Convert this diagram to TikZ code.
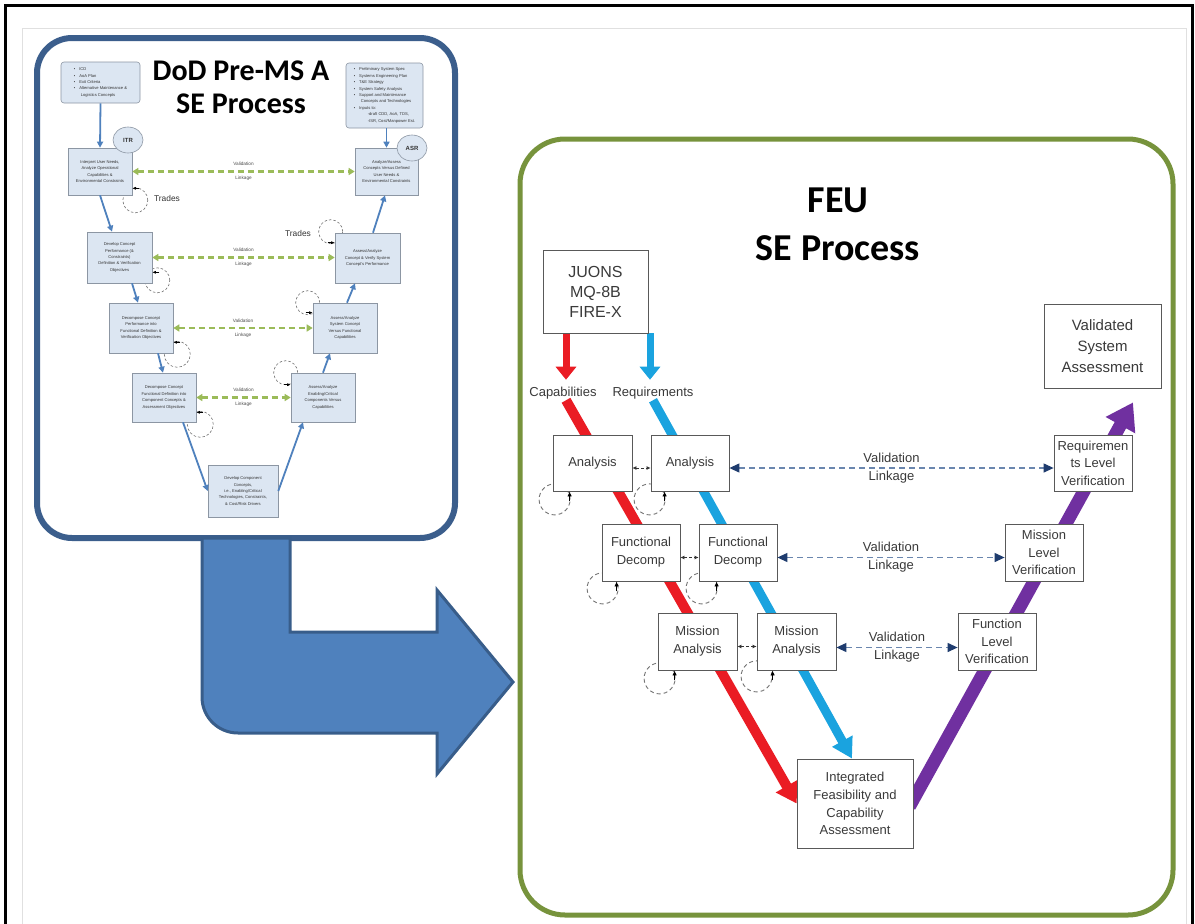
\documentclass[tikz,border=0pt]{standalone}
\usepackage{fontspec}
\setmainfont{Liberation Sans}
\newfontfamily\calib{Carlito}
\usetikzlibrary{arrows.meta,calc,shapes.geometric}
\pgfdeclarelayer{back}
\pgfdeclarelayer{mid}
\pgfsetlayers{back,mid,main}
\definecolor{lbfill}{HTML}{DCE6F2}
\definecolor{lbdraw}{HTML}{8C96A3}
\definecolor{panelblue}{HTML}{3B5E8C}
\definecolor{arrowblue}{HTML}{4F81BD}
\definecolor{arrowblueedge}{HTML}{385D8A}
\definecolor{vgreen}{HTML}{9BBB59}
\definecolor{panelgreen}{HTML}{77933C}
\definecolor{redarr}{HTML}{EA1C24}
\definecolor{cyanarr}{HTML}{1AA3DF}
\definecolor{purparr}{HTML}{7030A0}
\definecolor{linkblue}{HTML}{6A86AE}
\definecolor{linkhead}{HTML}{1F3C6E}
\definecolor{textgray}{HTML}{3A3A3A}
\begin{document}
\begin{tikzpicture}[x=1pt,y=-1pt,
  lbox/.style={draw=lbdraw, fill=lbfill, line width=0.6pt, align=center, inner sep=1pt,
    font=\fontsize{4.1}{6.4}\selectfont, text=black!80},
  inbox/.style={lbox, rounded corners=3pt, align=left},
  oval/.style={ellipse, draw=lbdraw, fill=lbfill, line width=0.6pt, minimum width=30pt, minimum height=26pt,
    inner sep=0pt, font=\bfseries\fontsize{6}{7}\selectfont, text=black!80},
  rbox/.style={draw=black!65, fill=white, line width=0.8pt, align=center, inner sep=1pt,
    font=\fontsize{13}{18}\selectfont, text=textgray},
  lbl/.style={font=\fontsize{13}{16}\selectfont, text=textgray, inner sep=1pt},
  vlabel/.style={align=center, font=\fontsize{13}{18}\selectfont, text=textgray, inner sep=0pt},
  svlabel/.style={align=center, font=\fontsize{4.7}{14}\selectfont, text=black!70, inner sep=0pt},
  trades/.style={font=\fontsize{8.4}{10}\selectfont, text=black!80, inner sep=0pt},
  vlink/.style={dash pattern=on 6pt off 4pt, draw=linkblue, line width=1.2pt,
    {Triangle[color=linkhead,length=10pt,width=9pt]}-{Triangle[color=linkhead,length=10pt,width=9pt]}},
  sdash/.style={dash pattern=on 3pt off 2pt, draw=black!80, line width=0.8pt,
    {Latex[length=4pt,width=4pt]}-{Latex[length=4pt,width=4pt]}},
  gdash/.style={dash pattern=on 6pt off 4pt, draw=vgreen, line width=2.2pt,
    {Triangle[length=6pt,width=7pt]}-{Triangle[length=6pt,width=7pt]}},
  barr/.style={draw=arrowblue, line width=1.8pt, -{Triangle[length=6pt,width=6pt]}},
  loopc/.style={dash pattern=on 4pt off 3pt, draw=black!55, line width=0.9pt},
  looparr/.style={-{Latex[length=5pt,width=4.5pt]}, draw=black, line width=0.8pt},
  sloopc/.style={dash pattern=on 2.5pt off 2pt, draw=black!55, line width=0.6pt},
  slooparr/.style={-{Latex[length=3.5pt,width=3pt]}, draw=black, line width=0.6pt},
  redv/.style={draw=redarr, line width=7pt, -{Triangle[length=13pt,width=20pt]}},
  cyanv/.style={draw=cyanarr, line width=7pt, -{Triangle[length=13pt,width=20pt]}},
  redd/.style={draw=redarr, line width=10pt, -{Triangle[length=20pt,width=24pt]}},
  cyand/.style={draw=cyanarr, line width=9pt, -{Triangle[length=20pt,width=22pt]}},
  purpd/.style={draw=purparr, line width=13pt, -{Triangle[length=26pt,width=32pt]}}
]
\useasboundingbox (0,0) rectangle (1195,924);

\begin{pgfonlayer}{back}
  \draw[black, line width=3pt] (5,924) -- (5,5) -- (1192,5) -- (1192,924);
  \draw[black!12, line width=1pt] (22,924) -- (22,28) -- (1186,28) -- (1186,924);
  \draw[panelblue, line width=6pt, fill=white, rounded corners=35pt] (37,38) rectangle (455,538);
  \draw[panelgreen, line width=5pt, fill=white, rounded corners=45pt] (520,139) rectangle (1173,915);
  \filldraw[fill=arrowblue, draw=arrowblueedge, line width=3pt, line join=miter]
    (290,538) -- (290,632) -- (437,632) -- (437,590) -- (513,682) -- (437,774) -- (437,733)
    -- (238,733) .. controls (218,733) and (202,717) .. (202,697) -- (202,538) -- cycle;
\end{pgfonlayer}

% ---------- titles ----------
\node[font=\calib\bfseries\fontsize{30}{33}\selectfont, align=center, inner sep=0pt] (t1) at (241,87) {DoD Pre-MS A\\SE Process};
\node[font=\calib\bfseries\fontsize{38}{48}\selectfont, align=center, inner sep=0pt] (t2) at (838,224) {FEU\\SE Process};

% ---------- left panel ----------
\node[inbox, minimum width=79pt, minimum height=41pt] (in1) at (100.5,82.5)
  {\textbullet\hspace{4pt}ICD\\\textbullet\hspace{4pt}AoA Plan\\\textbullet\hspace{4pt}Exit Criteria\\
   \textbullet\hspace{4pt}Alternative Maintenance \&\\\hspace{7pt}Logistics Concepts};
\node[inbox, minimum width=77pt, minimum height=65pt] (in2) at (384.5,95.5)
  {\textbullet\hspace{4pt}Preliminary System Spec\\\textbullet\hspace{4pt}Systems Engineering Plan\\
   \textbullet\hspace{4pt}T\&E Strategy\\\textbullet\hspace{4pt}System Safety Analysis\\
   \textbullet\hspace{4pt}Support and Maintenance\\\hspace{7pt}Concepts and Technologies\\
   \textbullet\hspace{4pt}Inputs to:\\\hspace{14pt}-draft CDD, AoA, TDS,\\\hspace{14pt}-ISR, Cost/Manpower Est.};

\node[lbox, minimum width=64pt, minimum height=47pt] (b1) at (100,171.5)
  {Interpret User Needs,\\Analyze Operational\\Capabilities \&\\Environmental Constraints};
\node[lbox, minimum width=63pt, minimum height=47pt] (b9) at (386.5,171.5)
  {Analyze/Assess\\Concepts Versus Defined\\User Needs \&\\Environmental Constraints};
\node[lbox, minimum width=65pt, minimum height=51pt] (b2) at (119.5,257.5)
  {Develop Concept\\Performance (\&\\Constraints)\\Definition \& Verification\\Objectives};
\node[lbox, minimum width=65pt, minimum height=50pt] (b8) at (367.5,258)
  {Assess/Analyze\\Concept \& Verify System\\Concept's Performance};
\node[lbox, minimum width=64pt, minimum height=50pt] (b3) at (141,328)
  {Decompose Concept\\Performance into\\Functional Definition \&\\Verification Objectives};
\node[lbox, minimum width=64pt, minimum height=50pt] (b7) at (345,328)
  {Assess/Analyze\\System Concept\\Versus Functional\\Capabilities};
\node[lbox, minimum width=64pt, minimum height=49pt] (b4) at (164,397.5)
  {Decompose Concept\\Functional Definition into\\Component Concepts \&\\Assessment Objectives};
\node[lbox, minimum width=64pt, minimum height=49pt] (b6) at (323,397.5)
  {Assess/Analyze\\Enabling/Critical\\Components Versus\\Capabilities};
\node[lbox, minimum width=70pt, minimum height=52pt] (b5) at (243,491)
  {Develop Component\\Concepts,\\i.e., Enabling/Critical\\Technologies, Constraints,\\\& Cost/Risk Drivers};

\node[oval] (itr) at (128,140) {ITR};
\node[oval] (asr) at (412,148) {ASR};

\node[trades] (tr1) at (167,198) {Trades};
\node[trades] (tr2) at (298,233) {Trades};

% left flow arrows
\draw[barr] (in1.south) -- (b1.north);
\draw[barr] ([xshift=2pt]in2.south) -- (b9.north);
\draw[barr] (b1.south) -- ([xshift=-7.5pt]b2.north);
\draw[barr] ([xshift=12.5pt]b2.south) -- ([xshift=-3pt]b3.north);
\draw[barr] ([xshift=17pt]b3.south) -- ([xshift=-1pt]b4.north);
\draw[barr] ([xshift=19pt]b4.south) -- (b5.west);
\draw[barr] (b5.east) -- ([xshift=-20pt]b6.south);
\draw[barr] (b6.north) -- ([xshift=-15pt]b7.south);
\draw[barr] ([xshift=2pt]b7.north) -- ([xshift=-12.5pt]b8.south);
\draw[barr] ([xshift=5.5pt]b8.north) -- ([xshift=-1.5pt]b9.south);

% left validation linkages
\draw[gdash] (b1.east) -- node[svlabel] (lv1) {Validation\\Linkage} (b9.west);
\draw[gdash] (b2.east) -- node[svlabel] (lv2) {Validation\\Linkage} (b2.east -| b8.west);
\draw[gdash] (b3.east) -- node[svlabel] (lv3) {Validation\\Linkage} (b7.west);
\draw[gdash] (b4.east) -- node[svlabel] (lv4) {Validation\\Linkage} (b6.west);

% left self loops
\begin{pgfonlayer}{mid}
  \draw[sloopc] ($(b1.south east)+(3,5)$) circle[radius=12.5pt];
  \draw[sloopc] ($(b2.south east)+(5,-3)$) circle[radius=12.5pt];
  \draw[sloopc] ($(b3.south east)+(4,1)$) circle[radius=13pt];
  \draw[sloopc] ($(b4.south east)+(4,2)$) circle[radius=13pt];
  \draw[sloopc] ($(b8.north west)+(-4,-1)$) circle[radius=12pt];
  \draw[sloopc] ($(b7.north west)+(-5,0)$) circle[radius=12pt];
  \draw[sloopc] ($(b6.north west)+(-5,0)$) circle[radius=12pt];
\end{pgfonlayer}
\draw[slooparr] ($(b1.south east)+(7,-7)$) -- ($(b1.south east)+(0,-7)$);
\draw[slooparr] ($(b2.south east)+(7,-11)$) -- ($(b2.south east)+(0,-11)$);
\draw[slooparr] ($(b3.south east)+(7,-11)$) -- ($(b3.south east)+(0,-11)$);
\draw[slooparr] ($(b4.south east)+(7,-10)$) -- ($(b4.south east)+(0,-10)$);
\draw[slooparr] ($(b8.north west)+(-7,10)$) -- ($(b8.north west)+(0,10)$);
\draw[slooparr] ($(b7.north west)+(-7,10)$) -- ($(b7.north west)+(0,10)$);
\draw[slooparr] ($(b6.north west)+(-7,12)$) -- ($(b6.north west)+(0,12)$);

% ---------- right panel ----------
\node[rbox, minimum width=105pt, minimum height=83pt, font=\fontsize{16}{20}\selectfont] (juons) at (595.5,291.5) {JUONS\\MQ-8B\\FIRE-X};
\node[rbox, minimum width=117pt, minimum height=84pt, font=\fontsize{15}{21}\selectfont] (vsa) at (1102.5,346) {Validated\\System\\Assessment};
\node[lbl] (cap) at (563,393) {Capabilities};
\node[lbl] (req) at (653,393) {Requirements};

\node[rbox, minimum width=79pt, minimum height=56pt] (a1) at (592.5,463) {Analysis};
\node[rbox, minimum width=78pt, minimum height=56pt] (a2) at (690,463) {Analysis};
\node[rbox, minimum width=78pt, minimum height=57pt] (f1) at (641,552.5) {Functional\\Decomp};
\node[rbox, minimum width=78pt, minimum height=57pt] (f2) at (738,552.5) {Functional\\Decomp};
\node[rbox, minimum width=79pt, minimum height=57pt] (m1) at (697.5,641.5) {Mission\\Analysis};
\node[rbox, minimum width=79pt, minimum height=57pt] (m2) at (796.5,641.5) {Mission\\Analysis};
\node[rbox, minimum width=116pt, minimum height=89pt, font=\fontsize{13}{17.8}\selectfont] (ifc) at (855,803.5) {Integrated\\Feasibility and\\Capability\\Assessment};
\node[rbox, minimum width=78pt, minimum height=56pt, font=\fontsize{13}{17.5}\selectfont] (rlv) at (1093,463) {Requiremen\\ts Level\\Verification};
\node[rbox, minimum width=78pt, minimum height=57pt, font=\fontsize{13}{17.5}\selectfont] (mlv) at (1044,552.5) {Mission\\Level\\Verification};
\node[rbox, minimum width=78pt, minimum height=57pt, font=\fontsize{13}{17.5}\selectfont] (flv) at (997,641.5) {Function\\Level\\Verification};
\coordinate (vtip) at ($(vsa.south)+(30.5,14)$);

\begin{pgfonlayer}{mid}
  \draw[redv] ([xshift=3pt]cap.north |- juons.south) -- ([xshift=3pt,yshift=6pt]cap.north);
  \draw[cyanv] ([xshift=-3pt]req.north |- juons.south) -- ([xshift=-3pt,yshift=6pt]req.north);
  \draw[redd] ([xshift=3pt]cap.south) -- (ifc.west);
  \draw[cyand] (req.south) -- ([xshift=-3pt]ifc.north);
  \draw[purpd] ($(ifc.east)+(-4,3)$) -- (vtip);
  % loops
  \draw[loopc] ($(a1.south west)+(2,8)$) circle[radius=15.5pt];
  \draw[loopc] ($(a2.south west)+(-1,8)$) circle[radius=15.5pt];
  \draw[loopc] ($(f1.south west)+(1,7)$) circle[radius=15.5pt];
  \draw[loopc] ($(f2.south west)+(3,7)$) circle[radius=15.5pt];
  \draw[loopc] ($(m1.south west)+(2,8)$) circle[radius=15.5pt];
  \draw[loopc] ($(m2.south west)+(0,6)$) circle[radius=15.5pt];
\end{pgfonlayer}
\draw[looparr] ($(a1.south west)+(17,10)$) -- ($(a1.south west)+(17,0)$);
\draw[looparr] ($(a2.south west)+(14,10)$) -- ($(a2.south west)+(14,0)$);
\draw[looparr] ($(f1.south west)+(15,10)$) -- ($(f1.south west)+(15,0)$);
\draw[looparr] ($(f2.south west)+(18,10)$) -- ($(f2.south west)+(18,0)$);
\draw[looparr] ($(m1.south west)+(17,10)$) -- ($(m1.south west)+(17,0)$);
\draw[looparr] ($(m2.south west)+(16,10)$) -- ($(m2.south west)+(16,0)$);

% pair links
\draw[sdash] ([yshift=-5pt]a1.east) -- ([yshift=-5pt]a2.west);
\draw[sdash] ([yshift=-5pt]f1.east) -- ([yshift=-5pt]f2.west);
\draw[sdash] ([yshift=-5pt]m1.east) -- ([yshift=-5pt]m2.west);

% validation linkages
\draw[vlink] ([yshift=-5pt]a2.east) -- node[vlabel] (vl1) {Validation\\Linkage} ([yshift=-5pt]rlv.west);
\draw[vlink] ([yshift=-5pt]f2.east) -- node[vlabel] (vl2) {Validation\\Linkage} ([yshift=-5pt]mlv.west);
\draw[vlink] ([yshift=-6pt]m2.east) -- node[vlabel] (vl3) {Validation\\Linkage} ([yshift=-6pt]flv.west);
\end{tikzpicture}
\end{document}
